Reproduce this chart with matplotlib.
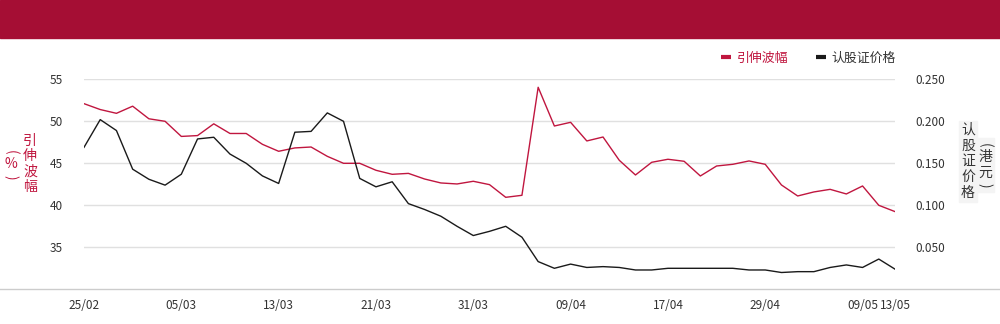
import matplotlib
matplotlib.use("Agg")
import matplotlib.pyplot as plt
from matplotlib.lines import Line2D
from matplotlib.patches import Rectangle

plt.rcParams["font.family"] = ["Noto Sans CJK SC", "DejaVu Sans"]

# trading dates (dd/mm)
dates = [
    "25/02", "26/02", "27/02", "28/02", "03/03", "04/03", "05/03", "06/03", "07/03",
    "10/03", "11/03", "12/03", "13/03", "14/03", "17/03", "18/03", "19/03", "20/03",
    "21/03", "24/03", "25/03", "26/03", "27/03", "28/03", "31/03", "01/04", "02/04",
    "03/04", "07/04", "08/04", "09/04", "10/04", "11/04", "14/04", "15/04", "16/04",
    "17/04", "22/04", "23/04", "24/04", "25/04", "28/04", "29/04", "30/04", "02/05",
    "06/05", "07/05", "08/05", "09/05", "12/05", "13/05",
]

# implied volatility (%)
iv = [
    52.1, 51.4, 50.95, 51.8, 50.3, 50.0, 48.2, 48.3, 49.7, 48.55, 48.55,
    47.26, 46.43, 46.83, 46.94, 45.83, 45.0, 45.0, 44.17, 43.69, 43.8,
    43.13, 42.66, 42.54, 42.86, 42.46, 40.95, 41.19, 54.05, 49.44, 49.88,
    47.66, 48.13, 45.36, 43.61, 45.12, 45.48, 45.24, 43.49, 44.68, 44.88,
    45.28, 44.88, 42.42, 41.11, 41.59, 41.9, 41.35, 42.3, 40.0, 39.25,
]

# warrant price (HKD)
price = [
    0.169, 0.202, 0.189, 0.143, 0.131, 0.124, 0.137, 0.179, 0.181, 0.161, 0.150,
    0.135, 0.126, 0.187, 0.188, 0.210, 0.200, 0.132, 0.122, 0.128, 0.102,
    0.095, 0.087, 0.075, 0.064, 0.069, 0.075, 0.062, 0.033, 0.025, 0.030,
    0.026, 0.027, 0.026, 0.023, 0.023, 0.025, 0.025, 0.025, 0.025, 0.025,
    0.023, 0.023, 0.020, 0.021, 0.021, 0.026, 0.029, 0.026, 0.036, 0.024,
]

left_ticks = [35, 40, 45, 50, 55]
right_ticks = [0.05, 0.10, 0.15, 0.20, 0.25]
label_idx = [0, 6, 12, 18, 24, 30, 36, 42, 48, 50]

red = "#c0163f"
black = "#1a1a1a"
W, H = 1000, 324

fig = plt.figure(figsize=(W / 100, H / 100), dpi=100)

# header band
fig.patches.append(Rectangle((0, 1 - 38 / H), 1, 38 / H, transform=fig.transFigure,
                             color="#a50e34", zorder=0))

ax = fig.add_axes([84 / W, (H - 289.3) / H, 811 / W, 210 / H])
ax2 = ax.twinx()

x = list(range(len(dates)))
ax.plot(x, iv, color=red, lw=1.0, zorder=3)
ax2.plot(x, price, color=black, lw=1.0, zorder=3)

ax.set_xlim(0, len(dates) - 1)
ax.set_ylim(30, 55)
ax2.set_ylim(0, 0.25)

ax.set_yticks(left_ticks)
ax.set_yticklabels([str(v) for v in left_ticks])
ax2.set_yticks(right_ticks)
ax2.set_yticklabels([f"{v:.3f}" for v in right_ticks])
ax.set_xticks(label_idx)
ax.set_xticklabels([dates[i] for i in label_idx])

ax.grid(axis="y", color="#e0e0e0", lw=1)
ax.set_axisbelow(True)
for a in (ax, ax2):
    for s in a.spines.values():
        s.set_visible(False)
ax.tick_params(axis="y", length=0, pad=15, labelsize=8.5, labelcolor="#333333")
ax2.tick_params(axis="y", length=0, pad=15, labelsize=8.5, labelcolor="#333333")
ax.tick_params(axis="x", length=0, pad=7, labelsize=8.5, labelcolor="#333333")

# baseline across the full width
fig.add_artist(Line2D([0, 1], [(H - 289.3) / H] * 2, transform=fig.transFigure,
                      color="#cccccc", lw=1))


def vcolumn(xp, chars, ys, color):
    # draw one vertical column of characters; parentheses turned sideways
    for ch, yp in zip(chars, ys):
        rot = -90 if ch in "()" else 0
        fig.text(xp / W, 1 - yp / H, ch, color=color, fontsize=10, rotation=rot,
                 ha="center", va="center", zorder=5)


def bgbox(x0, y0, x1, y1):
    fig.patches.append(Rectangle((x0 / W, 1 - y1 / H), (x1 - x0) / W, (y1 - y0) / H,
                                 transform=fig.transFigure, color="#f4f4f4",
                                 zorder=1))


bgbox(959, 121, 977, 202)
bgbox(977, 138, 994, 192)

vcolumn(30, "引伸波幅", [141, 156, 172, 187], red)
vcolumn(11, "(%)", [152, 164, 177], red)
vcolumn(968, "认股证价格", [130, 146, 161, 177, 193], "#333333")
vcolumn(985, "(港元)", [145, 157, 173, 185], "#333333")

# legend
handles = [Line2D([], [], color=red, lw=3, solid_capstyle="butt"),
           Line2D([], [], color=black, lw=3, solid_capstyle="butt")]
leg = fig.legend(handles, ["引伸波幅", "认股证价格"], loc="center right",
                 bbox_to_anchor=(896 / W, 1 - 58 / H), ncol=2, frameon=False,
                 fontsize=9.3, handlelength=0.77, handletextpad=0.46,
                 columnspacing=2.1, borderaxespad=0, borderpad=0)
leg.get_texts()[0].set_color(red)
leg.get_texts()[1].set_color("#333333")

fig.savefig("out.png", dpi=100)
